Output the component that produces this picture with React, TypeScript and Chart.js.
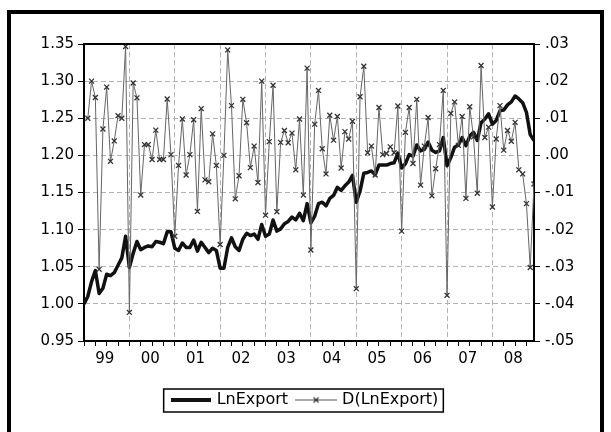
import React, { useEffect, useRef } from 'react';
import { Chart, registerables } from 'chart.js';

Chart.register(...registerables);

// Monthly series, Jan 1999 .. Dec 2008 (120 months)
const YEAR_LABELS = ['99', '00', '01', '02', '03', '04', '05', '06', '07', '08'];
const LEFT_TICKS = [0.95, 1.0, 1.05, 1.1, 1.15, 1.2, 1.25, 1.3, 1.35];
const RIGHT_TICKS = [-0.05, -0.04, -0.03, -0.02, -0.01, 0.0, 0.01, 0.02, 0.03];

// Log of exports, left axis
const LN_EXPORT = [
  1.000, 1.010, 1.030, 1.045, 1.014, 1.021, 1.040, 1.038, 1.042, 1.052, 1.062, 1.091,
  1.049, 1.068, 1.084, 1.073, 1.076, 1.078, 1.077, 1.084, 1.083, 1.081, 1.097, 1.097,
  1.075, 1.072, 1.082, 1.076, 1.076, 1.086, 1.071, 1.083, 1.076, 1.069, 1.075, 1.072,
  1.048, 1.048, 1.076, 1.089, 1.077, 1.072, 1.087, 1.095, 1.092, 1.094, 1.087, 1.107,
  1.091, 1.094, 1.113, 1.098, 1.101, 1.108, 1.111, 1.117, 1.113, 1.122, 1.112, 1.135,
  1.109, 1.118, 1.135, 1.137, 1.132, 1.142, 1.146, 1.157, 1.153, 1.159, 1.164, 1.173,
  1.137, 1.152, 1.176, 1.177, 1.179, 1.174, 1.187, 1.187, 1.187, 1.189, 1.190, 1.203,
  1.183, 1.189, 1.201, 1.199, 1.214, 1.206, 1.208, 1.218, 1.207, 1.204, 1.206, 1.224,
  1.186, 1.197, 1.211, 1.214, 1.224, 1.213, 1.226, 1.231, 1.220, 1.244, 1.249, 1.256,
  1.242, 1.247, 1.260, 1.261, 1.268, 1.272, 1.280, 1.276, 1.271, 1.258, 1.228, 1.220,
];

// First difference, right axis (starts Feb 1999)
const D_LN_EXPORT = [
  0.0100, 0.0200, 0.0156, -0.0307, 0.0071, 0.0184, -0.0016, 0.0039, 0.0107, 0.0100, 0.0293,
  -0.0423, 0.0195, 0.0155, -0.0107, 0.0029, 0.0029, -0.0011, 0.0068, -0.0011, -0.0011, 0.0152, 0.0002,
  -0.0218, -0.0027, 0.0098, -0.0053, 0.0002, 0.0096, -0.0151, 0.0126, -0.0066, -0.0071, 0.0058, -0.0027,
  -0.0240, 0.0000, 0.0284, 0.0134, -0.0117, -0.0055, 0.0151, 0.0088, -0.0033, 0.0025, -0.0073, 0.0200,
  -0.0161, 0.0037, 0.0189, -0.0152, 0.0035, 0.0067, 0.0034, 0.0060, -0.0039, 0.0098, -0.0107, 0.0235,
  -0.0255, 0.0084, 0.0175, 0.0018, -0.0050, 0.0108, 0.0041, 0.0105, -0.0034, 0.0064, 0.0044, 0.0092,
  -0.0359, 0.0158, 0.0240, 0.0007, 0.0025, -0.0053, 0.0129, 0.0002, 0.0005, 0.0023, 0.0007, 0.0133,
  -0.0204, 0.0062, 0.0129, -0.0022, 0.0151, -0.0080, 0.0025, 0.0102, -0.0109, -0.0036, 0.0029, 0.0175,
  -0.0377, 0.0113, 0.0144, 0.0027, 0.0105, -0.0116, 0.0131, 0.0050, -0.0102, 0.0242, 0.0048, 0.0076,
  -0.0139, 0.0044, 0.0134, 0.0014, 0.0067, 0.0038, 0.0089, -0.0039, -0.0050, -0.0130, -0.0302, -0.0077,
];

const FONT_FAMILY = 'DejaVu Sans';
const GRID_COLOR = '#b2b2b2';
const CLEAR = 'rgba(0,0,0,0)';

function formatRight(v: number): string {
  const s = Math.abs(v).toFixed(2).replace(/^0/, '');
  return (v < -1e-9 ? '-' : '') + s;
}

function makeLineSample(): HTMLCanvasElement {
  const c = document.createElement('canvas');
  c.width = 40;
  c.height = 6;
  const g = c.getContext('2d')!;
  g.fillStyle = '#111';
  g.fillRect(0, 1, 40, 4);
  return c;
}

function makeCrossSample(): HTMLCanvasElement {
  const c = document.createElement('canvas');
  c.width = 42;
  c.height = 9;
  const g = c.getContext('2d')!;
  g.strokeStyle = '#555';
  g.lineWidth = 1;
  g.beginPath();
  g.moveTo(0, 4.5);
  g.lineTo(42, 4.5);
  g.stroke();
  g.strokeStyle = '#333';
  g.lineWidth = 1.2;
  g.beginPath();
  g.moveTo(18.5, 2);
  g.lineTo(23.5, 7);
  g.moveTo(23.5, 2);
  g.lineTo(18.5, 7);
  g.stroke();
  return c;
}

const framePlugin = {
  id: 'frame',
  beforeDraw(chart: any) {
    const ctx = chart.ctx;
    ctx.save();
    ctx.fillStyle = '#fff';
    ctx.fillRect(0, 0, chart.width, chart.height);
    ctx.strokeStyle = '#000';
    ctx.lineWidth = 4;
    ctx.strokeRect(9, 12, 593, 500);
    ctx.restore();
  },
  afterDraw(chart: any) {
    const ctx = chart.ctx;
    const { left, right, top } = chart.chartArea;
    ctx.save();
    ctx.strokeStyle = '#000';
    ctx.lineWidth = 2;
    ctx.beginPath();
    ctx.moveTo(left - 1, top);
    ctx.lineTo(right + 1, top);
    ctx.stroke();
    const boxes = chart.legend && chart.legend.legendHitBoxes;
    if (boxes && boxes.length) {
      const first = boxes[0];
      const last = boxes[boxes.length - 1];
      const x0 = first.left - 9;
      const x1 = last.left + last.width + 5;
      const y0 = first.top - 3;
      const y1 = first.top + first.height + 4;
      ctx.lineWidth = 1.5;
      ctx.strokeRect(x0, y0, x1 - x0, y1 - y0);
    }
    ctx.restore();
  },
};

export default function App() {
  const canvasRef = useRef<HTMLCanvasElement | null>(null);

  useEffect(() => {
    if (!canvasRef.current) return;
    const lineSample = makeLineSample();
    const crossSample = makeCrossSample();
    const tickFont = { family: FONT_FAMILY, size: 15 };
    const lastMonth = LN_EXPORT.length - 1;

    const chart = new Chart(canvasRef.current, {
      type: 'line',
      data: {
        datasets: [
          {
            label: 'LnExport',
            data: LN_EXPORT.map((v, i) => ({ x: i, y: v })),
            yAxisID: 'y',
            borderColor: '#111',
            borderWidth: 3.5,
            borderJoinStyle: 'round',
            pointRadius: 0,
            tension: 0,
            order: 1,
          },
          {
            label: 'D(LnExport)',
            data: D_LN_EXPORT.map((v, i) => ({ x: i + 1, y: v })),
            yAxisID: 'y1',
            borderColor: '#666',
            borderWidth: 1,
            pointStyle: 'crossRot',
            pointRadius: 3.5,
            pointBorderColor: '#333',
            pointBorderWidth: 1.3,
            tension: 0,
            order: 0,
          },
        ],
      },
      options: {
        responsive: false,
        animation: false,
        events: [],
        layout: { padding: { top: 44, left: 0, right: 0, bottom: 14 } },
        scales: {
          x: {
            type: 'linear',
            min: 0,
            max: lastMonth,
            afterBuildTicks: (scale: any) => {
              const ticks: { value: number }[] = [];
              for (let m = 0; m <= lastMonth; m += 3) ticks.push({ value: m });
              YEAR_LABELS.forEach((_, k) => ticks.push({ value: k * 12 + 5.5 }));
              ticks.sort((a, b) => a.value - b.value);
              scale.ticks = ticks;
            },
            afterFit: (scale: any) => {
              scale.height = 41;
            },
            ticks: {
              autoSkip: false,
              maxRotation: 0,
              padding: 4,
              color: '#000',
              font: tickFont,
              callback: (v: any) => {
                const k = (Number(v) - 5.5) / 12;
                return Number.isInteger(k) ? YEAR_LABELS[k] : '';
              },
            },
            grid: {
              color: (c: any) =>
                c.tick && c.tick.value > 0 && c.tick.value % 12 === 0 ? GRID_COLOR : CLEAR,
              tickColor: (c: any) => (c.tick && Number.isInteger(c.tick.value) ? '#000' : CLEAR),
              tickLength: 5,
              lineWidth: 1,
            },
            border: { display: true, color: '#000', width: 2, dash: [5, 3] },
          },
          y: {
            type: 'linear',
            position: 'left',
            min: 0.95,
            max: 1.35,
            afterBuildTicks: (scale: any) => {
              scale.ticks = LEFT_TICKS.map((v) => ({ value: v }));
            },
            afterFit: (scale: any) => {
              scale.width = 84;
            },
            ticks: {
              padding: 4,
              color: '#000',
              font: tickFont,
              callback: (v: any) => Number(v).toFixed(2),
            },
            grid: { color: GRID_COLOR, tickColor: '#000', tickLength: 6, lineWidth: 1 },
            border: { display: true, color: '#000', width: 2, dash: [5, 3] },
          },
          y1: {
            type: 'linear',
            position: 'right',
            min: -0.05,
            max: 0.03,
            afterBuildTicks: (scale: any) => {
              scale.ticks = RIGHT_TICKS.map((v) => ({ value: v }));
            },
            afterFit: (scale: any) => {
              scale.width = 77;
            },
            ticks: {
              padding: 5,
              color: '#000',
              font: tickFont,
              callback: (v: any) => formatRight(Number(v)),
            },
            grid: { drawOnChartArea: false, tickColor: '#000', tickLength: 6 },
            border: { display: true, color: '#000', width: 2 },
          },
        },
        plugins: {
          tooltip: { enabled: false },
          legend: {
            position: 'bottom',
            labels: {
              usePointStyle: true,
              pointStyleWidth: 36,
              padding: 10,
              color: '#000',
              font: { family: FONT_FAMILY, size: 16 },
              generateLabels: () => [
                {
                  text: 'LnExport',
                  pointStyle: lineSample,
                  fillStyle: '#111',
                  strokeStyle: '#111',
                  lineWidth: 0,
                  hidden: false,
                  datasetIndex: 0,
                },
                {
                  text: 'D(LnExport)',
                  pointStyle: crossSample,
                  fillStyle: '#666',
                  strokeStyle: '#666',
                  lineWidth: 0,
                  hidden: false,
                  datasetIndex: 1,
                },
              ],
            },
          },
        },
      } as any,
      plugins: [framePlugin],
    });

    return () => chart.destroy();
  }, []);

  return (
    <div style={{ position: 'fixed', left: 0, top: 0, width: 611, height: 432, background: '#fff' }}>
      <canvas ref={canvasRef} width={611} height={432} style={{ display: 'block', width: 611, height: 432 }} />
    </div>
  );
}
